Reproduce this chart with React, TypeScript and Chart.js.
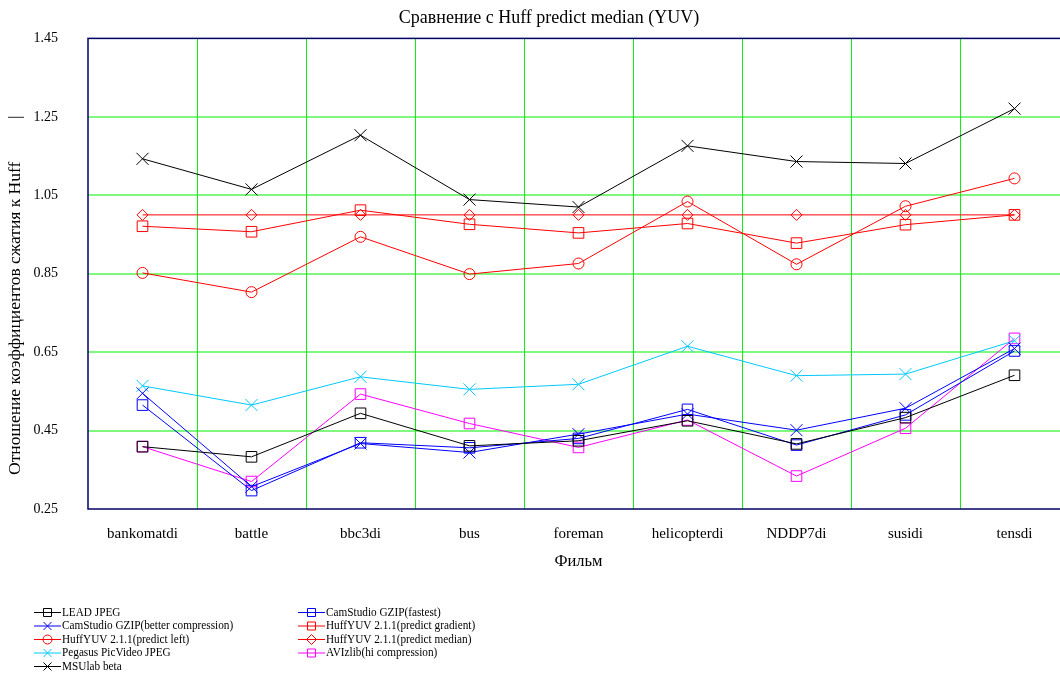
import React, { useEffect, useRef } from "react";
import { Chart, registerables } from "chart.js";

Chart.register(...registerables);

const categories = ["bankomatdi", "battle", "bbc3di", "bus", "foreman", "helicopterdi", "NDDP7di", "susidi", "tensdi"];

const leadJpeg = [0.409, 0.383, 0.494, 0.411, 0.424, 0.475, 0.416, 0.483, 0.591];
const camFastest = [0.515, 0.297, 0.419, 0.406, 0.43, 0.504, 0.413, 0.49, 0.653];
const camBetter = [0.545, 0.307, 0.417, 0.394, 0.441, 0.492, 0.451, 0.507, 0.659];
const huffGradient = [0.971, 0.957, 1.012, 0.976, 0.954, 0.978, 0.928, 0.975, 1.0];
const huffLeft = [0.852, 0.803, 0.944, 0.849, 0.876, 1.034, 0.874, 1.022, 1.093];
const huffMedian = [1.0, 1.0, 1.0, 1.0, 1.0, 1.0, 1.0, 1.0, 1.0];
const pegasus = [0.564, 0.515, 0.587, 0.555, 0.568, 0.665, 0.59, 0.594, 0.679];
const avizlib = [0.409, 0.32, 0.543, 0.468, 0.407, 0.477, 0.334, 0.456, 0.685];
const msulab = [1.143, 1.065, 1.203, 1.039, 1.02, 1.176, 1.136, 1.131, 1.271];

const seriesNames = [
  "LEAD JPEG",
  "CamStudio GZIP(fastest)",
  "CamStudio GZIP(better compression)",
  "HuffYUV 2.1.1(predict gradient)",
  "HuffYUV 2.1.1(predict left)",
  "HuffYUV 2.1.1(predict median)",
  "Pegasus PicVideo JPEG",
  "AVIzlib(hi compression)",
  "MSUlab beta",
];
const seriesValues = [leadJpeg, camFastest, camBetter, huffGradient, huffLeft, huffMedian, pegasus, avizlib, msulab];
const seriesColors = ["#000000", "#0000ff", "#0000ff", "#ff0000", "#ff0000", "#ff0000", "#00c8ff", "#ff00ff", "#000000"];
const seriesStyles = ["rect", "rect", "crossRot", "rect", "circle", "rectRot", "crossRot", "rect", "crossRot"];

const yMin = 0.25;
const yMax = 1.45;
const yStep = 0.2;

const chartTitle = "Сравнение с Huff predict median (YUV)";
const xTitle = "Фильм";
const yTitle = "Отношение коэффициентов сжатия к Huff";

const FONT = '"Liberation Serif", "Times New Roman", serif';

function radiusFor(style: string) {
  if (style === "rect") return 7.5;
  if (style === "crossRot") return 8.5;
  return 5.5;
}

function drawMarker(ctx: CanvasRenderingContext2D, style: string, x: number, y: number, s: number) {
  ctx.beginPath();
  if (style === "rect") {
    ctx.rect(x - s, y - s, 2 * s, 2 * s);
  } else if (style === "circle") {
    ctx.arc(x, y, s, 0, Math.PI * 2);
  } else if (style === "rectRot") {
    ctx.moveTo(x - s, y);
    ctx.lineTo(x, y - s);
    ctx.lineTo(x + s, y);
    ctx.lineTo(x, y + s);
    ctx.closePath();
  } else {
    ctx.moveTo(x - s, y - s);
    ctx.lineTo(x + s, y + s);
    ctx.moveTo(x + s, y - s);
    ctx.lineTo(x - s, y + s);
  }
  ctx.stroke();
}

const decor = {
  id: "decor",
  beforeDatasetsDraw(chart: any) {
    const { ctx, chartArea: a } = chart;
    const xs = chart.scales.x;
    ctx.save();
    ctx.fillStyle = "#11ee11";
    for (let i = 0; i < categories.length - 1; i++) {
      const px = Math.round((xs.getPixelForTick(i) + xs.getPixelForTick(i + 1)) / 2);
      ctx.fillRect(px, Math.round(a.top), 1, Math.round(a.bottom - a.top));
    }
    ctx.strokeStyle = "#000066";
    ctx.lineWidth = 1.5;
    ctx.strokeRect(a.left, a.top, a.right - a.left, a.bottom - a.top);
    ctx.restore();
  },
  afterDraw(chart: any) {
    const { ctx } = chart;
    ctx.save();
    ctx.fillStyle = "#000";
    ctx.font = `18px ${FONT}`;
    ctx.textAlign = "center";
    ctx.textBaseline = "middle";
    ctx.fillText(chartTitle, 549, 18);
    ctx.save();
    ctx.translate(15, 475);
    ctx.rotate(-Math.PI / 2);
    ctx.font = `17.5px ${FONT}`;
    ctx.textAlign = "left";
    ctx.fillText(yTitle, 0, 0);
    ctx.fillText("|", 356, 0);
    ctx.restore();
    const cols = [34, 298];
    chart.data.datasets.forEach((ds: any, i: number) => {
      const col = i % 2;
      const row = Math.floor(i / 2);
      const x0 = cols[col];
      const y = 612.5 + row * 13.5;
      ctx.strokeStyle = ds.borderColor;
      ctx.lineWidth = 1;
      ctx.beginPath();
      ctx.moveTo(x0, y);
      ctx.lineTo(x0 + 27, y);
      ctx.stroke();
      const st = ds.pointStyle;
      drawMarker(ctx, st, x0 + 13.5, y, st === "circle" ? 4.5 : st === "rectRot" ? 5 : 4);
      ctx.save();
      ctx.translate(x0 + 28, y);
      ctx.scale(0.9, 1);
      ctx.fillStyle = "#000";
      ctx.font = `12.5px ${FONT}`;
      ctx.textAlign = "left";
      ctx.textBaseline = "middle";
      ctx.fillText(seriesNames[i], 0, 0);
      ctx.restore();
    });
    ctx.restore();
  },
};

export default function App() {
  const ref = useRef<HTMLCanvasElement>(null);
  useEffect(() => {
    if (!ref.current) return;
    Chart.defaults.font.family = FONT;
    Chart.defaults.color = "#000";
    const chart = new Chart(ref.current, {
      type: "line",
      data: {
        labels: categories,
        datasets: seriesValues.map((vals, i) => ({
          label: seriesNames[i],
          data: vals,
          borderColor: seriesColors[i],
          backgroundColor: "rgba(0,0,0,0)",
          borderWidth: 1,
          pointStyle: seriesStyles[i] as any,
          pointRadius: radiusFor(seriesStyles[i]),
          pointBorderWidth: 1,
          pointBackgroundColor: "rgba(0,0,0,0)",
          pointBorderColor: seriesColors[i],
          tension: 0,
          fill: false,
        })),
      },
      options: {
        responsive: false,
        animation: false,
        devicePixelRatio: 1,
        layout: { padding: { left: 0, right: 29, top: 38, bottom: 0 } },
        plugins: {
          legend: { display: false },
          title: { display: false },
          tooltip: { enabled: false },
        },
        events: [],
        scales: {
          x: {
            type: "category",
            offset: true,
            grid: { display: false, offset: true, drawTicks: false },
            border: { display: false },
            ticks: { font: { size: 15 }, padding: 16, color: "#000", maxRotation: 0, autoSkip: false },
            title: { display: true, text: xTitle, font: { size: 16.5 }, padding: { top: 0, bottom: 103 }, color: "#000" },
            afterFit: (s: any) => { s.height = 166; },
          },
          y: {
            type: "linear",
            min: yMin,
            max: yMax,
            ticks: {
              stepSize: yStep,
              font: { size: 14 },
              padding: 30,
              color: "#000",
              callback: (v: any) => Number(v).toFixed(2),
            },
            grid: {
              drawTicks: false,
              lineWidth: 2,
              color: (c: any) => {
                const v = c.tick ? c.tick.value : 0;
                if (Math.abs(v - yMin) < 1e-6 || Math.abs(v - yMax) < 1e-6) return "rgba(0,0,0,0)";
                return "#80f880";
              },
            },
            border: { display: false },
            afterFit: (s: any) => { s.width = 88; },
          },
        },
      },
      plugins: [decor],
    });
    return () => chart.destroy();
  }, []);
  return (
    <div style={{ position: "fixed", left: 0, top: 0, width: 1060, height: 675, overflow: "hidden", background: "#fff" }}>
      <canvas ref={ref} width={1098} height={675} style={{ display: "block", width: 1098, height: 675 }} />
    </div>
  );
}
